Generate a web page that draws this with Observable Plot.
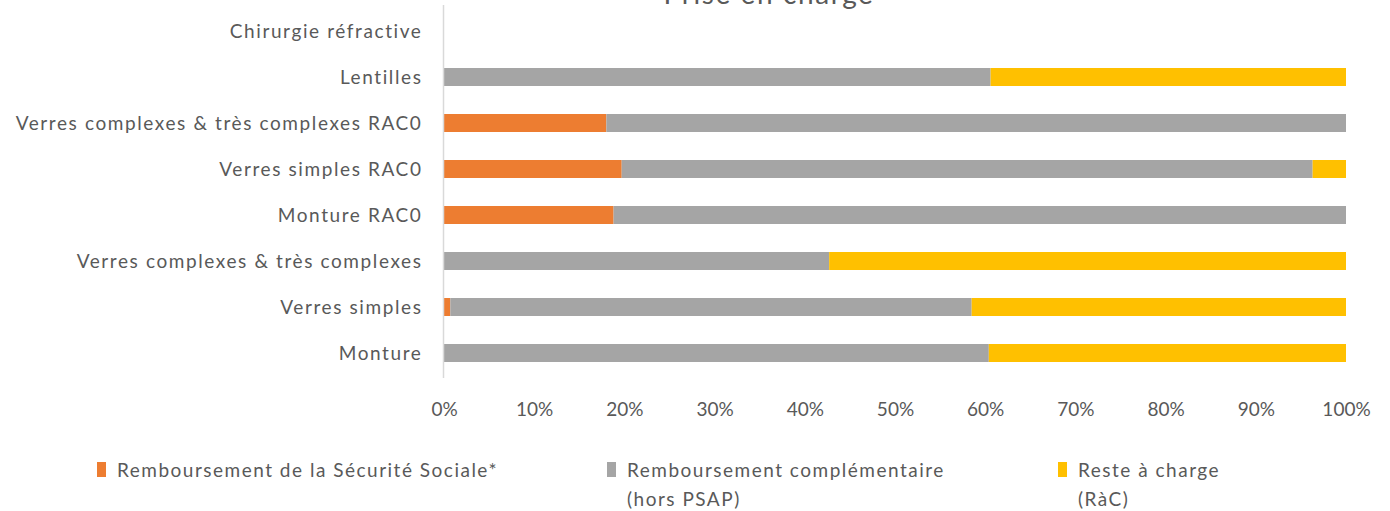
<!DOCTYPE html>
<html><head><meta charset="utf-8">
<script src="https://cdn.jsdelivr.net/npm/d3@7"></script>
<script src="https://cdn.jsdelivr.net/npm/@observablehq/plot@0.6"></script>
<style>
body{margin:0;background:#fff;font-family:Lato,"Liberation Sans",sans-serif;}
#wrap{position:relative;width:1390px;height:511px;overflow:hidden;}
#title{position:absolute;left:0;width:1538px;text-align:center;top:-24px;font-size:28px;letter-spacing:1.6px;color:#595959;}
#chart{position:absolute;left:0;top:0;}
.leg{position:absolute;top:455px;font-size:19px;letter-spacing:1.5px;color:#595959;line-height:29px;white-space:nowrap;}
.sw{position:absolute;left:-20px;top:7px;width:9px;height:15px;}
[aria-label="y-axis tick label"] text{letter-spacing:1.6px;}
</style></head><body>
<div id="wrap"><div id="chart"></div><div id="title">Prise en charge</div>
<div id="legend"></div></div>
<script>
const categories = ["Chirurgie réfractive","Lentilles","Verres complexes & très complexes RAC0","Verres simples RAC0","Monture RAC0","Verres complexes & très complexes","Verres simples","Monture"];
const secu   = [0, 0,    18.0, 19.7, 18.8, 0,    0.7,  0];
const compl  = [0, 60.6, 82.0, 76.6, 81.2, 42.7, 57.8, 60.4];
const rac    = [0, 39.4, 0,    3.7,  0,    57.3, 41.5, 39.6];
const seriesNames = ["Remboursement de la Sécurité Sociale*","Remboursement complémentaire (hors PSAP)","Reste à charge (RàC)"];
const legendLines = [["Remboursement de la Sécurité Sociale*"],["Remboursement complémentaire","(hors PSAP)"],["Reste à charge","(RàC)"]];
const colors = ["#ed7d31","#a5a5a5","#ffc000"];
const xTicks = [0,10,20,30,40,50,60,70,80,90,100];

const rows = [];
categories.forEach((c,i)=>{
  [secu,compl,rac].forEach((arr,j)=>{ rows.push({cat:c, series:seriesNames[j], v:arr[i]/100}); });
});

const chart = Plot.plot({
  width:1390, height:430,
  marginLeft:444, marginRight:44, marginTop:5, marginBottom:52,
  style:{fontFamily:"Lato, 'Liberation Sans', sans-serif", fontSize:"19px", color:"#595959", background:"#fff"},
  x:{domain:[0,1], ticks:xTicks.map(d=>d/100), tickFormat:d=>Math.round(d*100)+"%", tickSize:0, tickPadding:24, label:null},
  y:{domain:categories, paddingInner:0.61, paddingOuter:0.305, tickSize:0, tickPadding:22, label:null},
  color:{domain:seriesNames, range:colors},
  marks:[
    Plot.barX(rows, Plot.stackX({x:"v", y:"cat", fill:"series"})),
    Plot.ruleX([0], {stroke:"#d9d9d9", strokeWidth:1.5, dx:-1})
  ]
});
document.getElementById("chart").appendChild(chart);

const legPos = [117, 627, 1078];
const leg = document.getElementById("legend");
legendLines.forEach((lines,i)=>{
  const d = document.createElement("div");
  d.className="leg"; d.style.left=legPos[i]+"px";
  d.innerHTML = `<span class="sw" style="background:${colors[i]}"></span>` + lines.join("<br>");
  leg.appendChild(d);
});
</script></body></html>
